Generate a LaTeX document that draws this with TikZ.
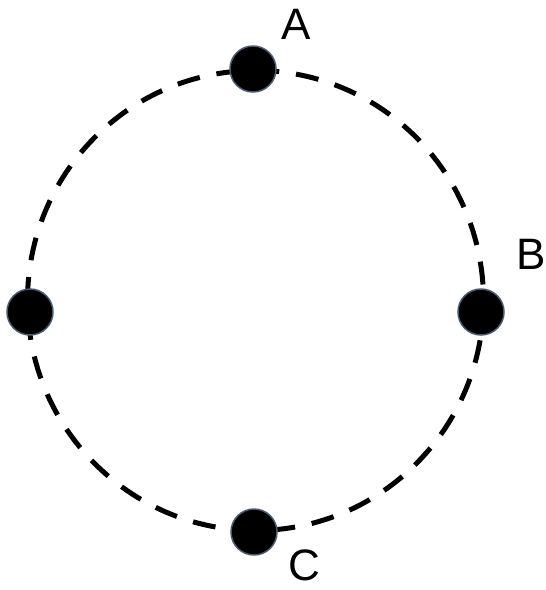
\documentclass[tikz,border=0pt]{standalone}
\usepackage{fontspec}
\setmainfont{Liberation Sans}
\definecolor{dotedge}{HTML}{4A5A70}
\tikzset{
  dot/.style={circle, fill=black, draw=dotedge, line width=1.5pt, minimum size=46pt, inner sep=0pt},
  lbl/.style={font=\fontsize{44}{50}\selectfont, inner sep=0pt},
  ring/.style={draw=black, line width=5pt, dash pattern=on 23pt off 17pt}
}
\begin{document}
\begin{tikzpicture}[x=1pt,y=-1pt]
\useasboundingbox (0,0) rectangle (546,590);
\draw[ring] (255.5,300.5) ellipse [x radius=228, y radius=230];
\node[dot] (A) at (253,69) {};
\node[dot] (B) at (481,312) {};
\node[dot] (C) at (254,532) {};
\node[dot] (D) at (30,312) {};
\node[lbl] (la) at (296,24) {A};
\node[lbl] (lb) at (531,254) {B};
\node[lbl] (lc) at (304,565) {C};
\end{tikzpicture}
\end{document}
